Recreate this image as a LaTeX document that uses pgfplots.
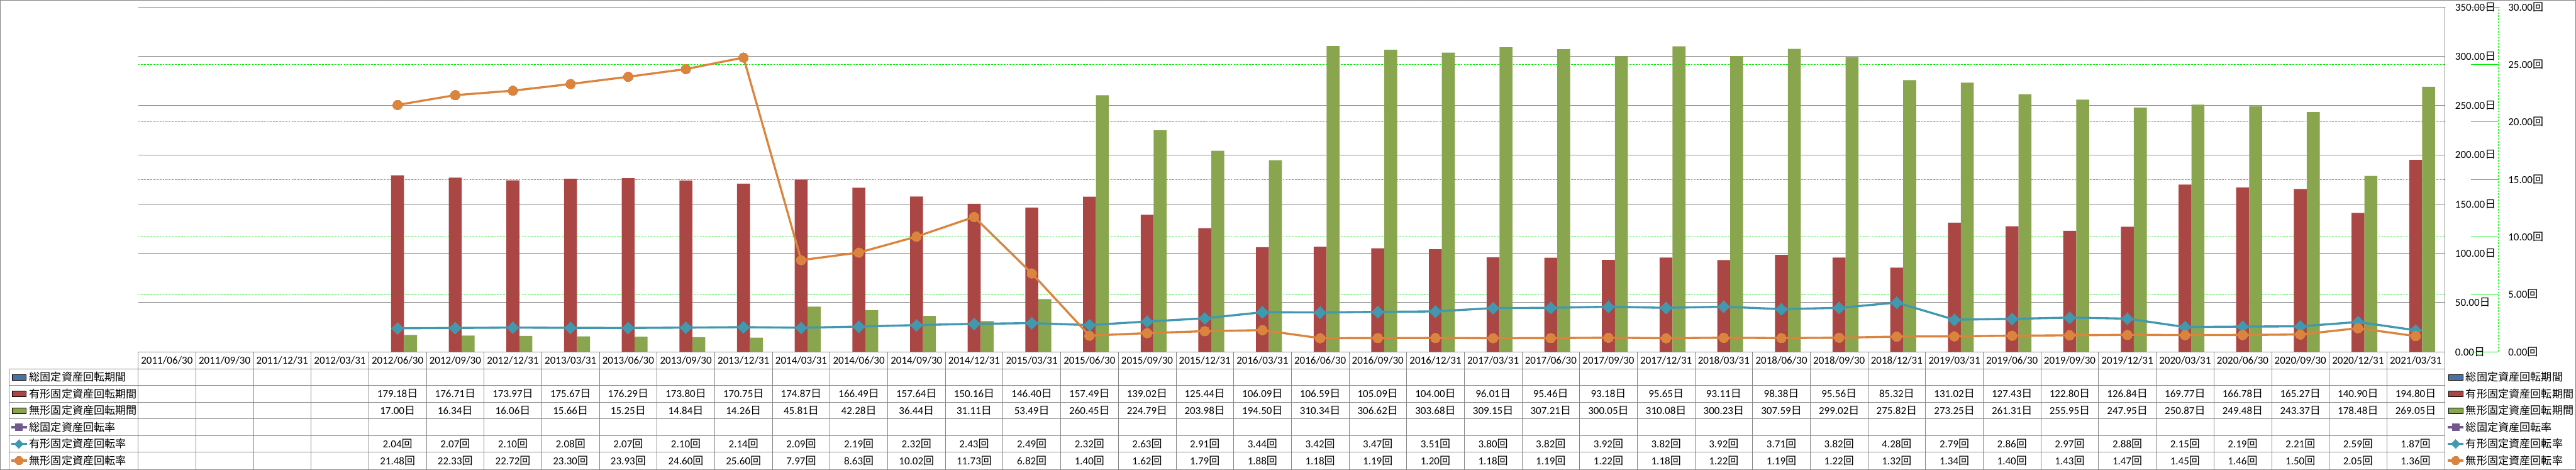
\documentclass[border=0pt]{standalone}
\usepackage{fontspec}
\setmainfont{Carlito}
\newfontfamily\cjk{Noto Sans CJK JP}
\usepackage{pgfplots}
\usepackage{pgfplotstable}
\pgfplotsset{compat=1.18}

\definecolor{cBlue}{HTML}{4572A7}
\definecolor{cRed}{HTML}{AA4643}
\definecolor{cGreen}{HTML}{89A54E}
\definecolor{cPurple}{HTML}{71588F}
\definecolor{cTeal}{HTML}{4198AF}
\definecolor{cOrange}{HTML}{DB843D}
\definecolor{gridgray}{HTML}{868686}
\definecolor{secgrid}{HTML}{00EE00}

\newcommand\tfont{\fontsize{12.2pt}{14pt}\selectfont}
\newcommand\lgfont{\cjk\fontsize{12.3pt}{14pt}\selectfont}

% i = category index (1 = 2011/06/30 ... 40 = 2021/03/31)
\pgfplotstableread{
i  yuukei mukei  yritsu mritsu
5  179.18 17.00  2.04 21.48
6  176.71 16.34  2.07 22.33
7  173.97 16.06  2.10 22.72
8  175.67 15.66  2.08 23.30
9  176.29 15.25  2.07 23.93
10 173.80 14.84  2.10 24.60
11 170.75 14.26  2.14 25.60
12 174.87 45.81  2.09 7.97
13 166.49 42.28  2.19 8.63
14 157.64 36.44  2.32 10.02
15 150.16 31.11  2.43 11.73
16 146.40 53.49  2.49 6.82
17 157.49 260.45 2.32 1.40
18 139.02 224.79 2.63 1.62
19 125.44 203.98 2.91 1.79
20 106.09 194.50 3.44 1.88
21 106.59 310.34 3.42 1.18
22 105.09 306.62 3.47 1.19
23 104.00 303.68 3.51 1.20
24 96.01  309.15 3.80 1.18
25 95.46  307.21 3.82 1.19
26 93.18  300.05 3.92 1.22
27 95.65  310.08 3.82 1.18
28 93.11  300.23 3.92 1.22
29 98.38  307.59 3.71 1.19
30 95.56  299.02 3.82 1.22
31 85.32  275.82 4.28 1.32
32 131.02 273.25 2.79 1.34
33 127.43 261.31 2.86 1.40
34 122.80 255.95 2.97 1.43
35 126.84 247.95 2.88 1.47
36 169.77 250.87 2.15 1.45
37 166.78 249.48 2.19 1.46
38 165.27 243.37 2.21 1.50
39 140.90 178.48 2.59 2.05
40 194.80 269.05 1.87 1.36
}\data

\pgfplotsset{
  /pgf/number format/assume math mode=true,
  boxkey/.style={legend image code/.code={\fill[##1] (0pt,-3.25pt) rectangle (16pt,3.25pt);}},
  linekey/.style={legend image code/.code={\draw[mark repeat=2,mark phase=2,##1] plot coordinates {(-1pt,0pt) (8pt,0pt) (17pt,0pt)};}},
  tablerow/.style={draw=none, mark=none, forget plot, point meta=explicit,
    nodes near coords={\pgfmathprintnumber[fixed,fixed zerofill,precision=2]{\pgfplotspointmeta}{\cjk #1}},
    nodes near coords align=center},
  sixkeys/.style={legend cell align=left,
    legend style={draw=none, fill=none, inner sep=0pt, outer sep=0pt,
      /tikz/row sep=0pt, /tikz/column sep=1.5pt, font=\lgfont,
      nodes={inner sep=0pt, minimum height=19pt, font=\lgfont}}},
}

\begin{document}
\begin{tikzpicture}

% primary axis: periods (days), bars and data table
\begin{axis}[
  set layers,
  at={(0,0)}, anchor=south west,
  scale only axis, width=2630.5pt, height=393pt,
  xmin=0.5, xmax=40.5, ymin=0, ymax=350,
  axis x line*=bottom, axis y line*=right,
  axis line style={gridgray, line width=0.5pt},
  major tick length=0pt,
  xtick={1,...,40},
  xticklabels={2011/06/30,2011/09/30,2011/12/31,2012/03/31,2012/06/30,2012/09/30,2012/12/31,2013/03/31,
    2013/06/30,2013/09/30,2013/12/31,2014/03/31,2014/06/30,2014/09/30,2014/12/31,2015/03/31,
    2015/06/30,2015/09/30,2015/12/31,2016/03/31,2016/06/30,2016/09/30,2016/12/31,2017/03/31,
    2017/06/30,2017/09/30,2017/12/31,2018/03/31,2018/06/30,2018/09/30,2018/12/31,2019/03/31,
    2019/06/30,2019/09/30,2019/12/31,2020/03/31,2020/06/30,2020/09/30,2020/12/31,2021/03/31},
  xticklabel style={anchor=center, yshift=-9.75pt, font=\tfont},
  ytick={0,50,...,350},
  yticklabel={\pgfmathprintnumber[fixed,fixed zerofill,precision=2]{\tick}{\cjk 日}},
  yticklabel style={anchor=west, inner sep=0pt, xshift=12pt, font=\tfont},
  ymajorgrids, grid style={gridgray, line width=0.5pt},
  clip=false,
  sixkeys,
  legend style={at={(axis description cs:1,0)}, anchor=north west, xshift=2.5pt, yshift=-19.5pt},
]
\addplot[ybar, bar width=14.75pt, bar shift=0pt, fill=cRed, draw=none, forget plot]
  table[x=i, y=yuukei]{\data};
\addplot[ybar, bar width=14.75pt, bar shift=14.75pt, fill=cGreen, draw=none, forget plot]
  table[x=i, y=mukei]{\data};

% values of the data table
\addplot[tablerow=日, every node near coord/.append style={anchor=center, yshift=-48pt, inner sep=0pt, font=\tfont}]
  table[x=i, y expr=0, meta=yuukei]{\data};
\addplot[tablerow=日, every node near coord/.append style={anchor=center, yshift=-67pt, inner sep=0pt, font=\tfont}]
  table[x=i, y expr=0, meta=mukei]{\data};
\addplot[tablerow=回, every node near coord/.append style={anchor=center, yshift=-105pt, inner sep=0pt, font=\tfont}]
  table[x=i, y expr=0, meta=yritsu]{\data};
\addplot[tablerow=回, every node near coord/.append style={anchor=center, yshift=-124.25pt, inner sep=0pt, font=\tfont}]
  table[x=i, y expr=0, meta=mritsu]{\data};

\addlegendimage{boxkey, fill=cBlue}
\addlegendentry{\lgfont 総固定資産回転期間}
\addlegendimage{boxkey, fill=cRed}
\addlegendentry{\lgfont 有形固定資産回転期間}
\addlegendimage{boxkey, fill=cGreen}
\addlegendentry{\lgfont 無形固定資産回転期間}
\addlegendimage{linekey, cPurple, line width=2.4pt, mark=square*, mark size=4pt, mark options={line width=0pt}}
\addlegendentry{\lgfont 総固定資産回転率}
\addlegendimage{linekey, cTeal, line width=2.4pt, mark=square*, mark size=3.6pt, mark options={rotate=45, line width=0pt}}
\addlegendentry{\lgfont 有形固定資産回転率}
\addlegendimage{linekey, cOrange, line width=2.4pt, mark=*, mark size=4.8pt, mark options={line width=0pt}}
\addlegendentry{\lgfont 無形固定資産回転率}
\end{axis}

% secondary axis: turnover (times), lines
\begin{axis}[
  set layers,
  at={(0,0)}, anchor=south west,
  scale only axis, width=2630.5pt, height=393pt,
  xmin=0.5, xmax=40.5, ymin=0, ymax=30,
  axis x line=none, axis y line*=right,
  y axis line style={draw=none},
  major tick length=0pt,
  ytick={0,5,...,30},
  yticklabel={\pgfmathprintnumber[fixed,fixed zerofill,precision=2]{\tick}{\cjk 回}},
  yticklabel style={anchor=west, inner sep=0pt, xshift=72.5pt, font=\tfont},
  ymajorgrids, grid style={secgrid, line width=0.5pt, dash pattern=on 2pt off 1.5pt},
  clip=false,
  sixkeys,
  legend style={at={(axis description cs:0,0)}, anchor=north west, xshift=-146pt, yshift=-19.5pt},
]
\addplot[cTeal, line width=2.4pt, mark=square*, mark size=4.9pt, mark options={rotate=45, line width=0pt}, forget plot]
  table[x=i, y=yritsu]{\data};
\addplot[cOrange, line width=2.4pt, mark=*, mark size=5.5pt, mark options={line width=0pt}, forget plot]
  table[x=i, y=mritsu]{\data};

\draw[secgrid, line width=0.5pt, dash pattern=on 2pt off 1.5pt]
  ([xshift=61pt]rel axis cs:1,0) -- ([xshift=61pt]rel axis cs:1,1);
\pgfplotsinvokeforeach{0,5,...,30}{\draw[secgrid, line width=0.5pt] ([xshift=61pt]axis cs:40.5,#1) -- ++(2pt,0);}

\addlegendimage{boxkey, fill=cBlue}
\addlegendentry{\lgfont 総固定資産回転期間}
\addlegendimage{boxkey, fill=cRed}
\addlegendentry{\lgfont 有形固定資産回転期間}
\addlegendimage{boxkey, fill=cGreen}
\addlegendentry{\lgfont 無形固定資産回転期間}
\addlegendimage{linekey, cPurple, line width=2.4pt, mark=square*, mark size=4pt, mark options={line width=0pt}}
\addlegendentry{\lgfont 総固定資産回転率}
\addlegendimage{linekey, cTeal, line width=2.4pt, mark=square*, mark size=3.6pt, mark options={rotate=45, line width=0pt}}
\addlegendentry{\lgfont 有形固定資産回転率}
\addlegendimage{linekey, cOrange, line width=2.4pt, mark=*, mark size=4.8pt, mark options={line width=0pt}}
\addlegendentry{\lgfont 無形固定資産回転率}
\end{axis}

% data table grid and chart frame
\begin{scope}[gridgray, line width=0.5pt]
\foreach \y in {-19.5,-38.5,-57.5,-76.5,-95.5,-114.5,-134}
  \draw (-147pt,\y pt) -- (2630.5pt,\y pt);
\draw (-147pt,-19.5pt) -- (-147pt,-134pt);
\foreach \k in {0,...,40}
  \draw (\k*65.7625pt,0pt) -- (\k*65.7625pt,-134pt);
\draw (-157pt,-134pt) rectangle (2780.25pt,400.75pt);
\end{scope}

\pgfresetboundingbox
\useasboundingbox (-157.5pt,-134.5pt) rectangle (2780.5pt,401pt);
\end{tikzpicture}
\end{document}
